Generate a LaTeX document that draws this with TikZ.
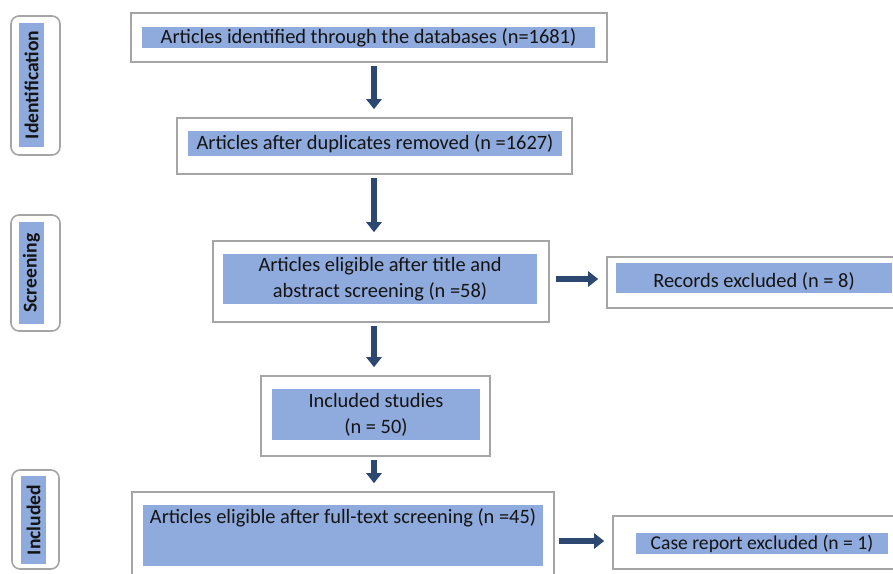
\documentclass[tikz,border=0pt]{standalone}
\usepackage{fontspec}
\setmainfont{Carlito}
\usepackage{tikz}
\usetikzlibrary{arrows.meta}
\definecolor{box_gray}{RGB}{165,165,165}
\definecolor{fill_blue}{RGB}{143,170,220}
\definecolor{arrow_navy}{RGB}{44,72,112}
\definecolor{text_dark}{RGB}{20,20,20}

\begin{document}
\begin{tikzpicture}[x=0.5pt,y=-0.5pt,->,>={Triangle[width=7.5pt,length=5pt]},
    font=\fontsize{10.2}{13}\selectfont,text=text_dark]
    \tikzstyle{outer}=[draw=box_gray, line width=0.8pt, rectangle, fill=white, inner sep=0pt]
    \tikzstyle{inner}=[fill=fill_blue, rectangle, inner sep=0.5pt, align=center]
    \tikzstyle{stage}=[draw=box_gray, line width=0.8pt, rounded corners=4pt, fill=white, inner sep=0pt]
    \tikzstyle{tag}=[fill=fill_blue, inner sep=0pt, rotate=90, font=\fontsize{9.8}{11}\selectfont\bfseries]
    \tikzstyle{flow}=[draw=arrow_navy, line width=3pt, shorten <=1.5pt, shorten >=4pt]

    \clip (0,0) rectangle (893,573);

    % stages
    \node[stage, minimum width=24.5pt, minimum height=69.5pt] (ident) at (35.5,85.5) {};
    \node[tag, minimum width=62pt, minimum height=12.5pt] (ident_t) at (31.5,85) {Identification};
    \node[stage, minimum width=24.5pt, minimum height=58pt] (screen) at (35.5,273) {};
    \node[tag, minimum width=51pt, minimum height=12.5pt] (screen_t) at (31.5,273) {Screening};
    \node[stage, minimum width=23.5pt, minimum height=49.5pt] (incl) at (35.5,519.5) {};
    \node[tag, minimum width=44pt, minimum height=12.5pt] (incl_t) at (33.5,520) {Included};

    % boxes
    \node[outer, minimum width=238pt, minimum height=24.5pt] (db) at (369,37.5) {};
    \node[inner, minimum width=226.5pt, minimum height=10.5pt] (db_t) at (368.5,37.5) {Articles identified through the databases (n=1681)};
    \node[outer, minimum width=197.5pt, minimum height=28pt] (dup) at (374.5,146) {};
    \node[inner, minimum width=187pt, minimum height=12.5pt] (dup_t) at (375,143.5) {Articles after duplicates removed (n =1627)};
    \node[outer, minimum width=168pt, minimum height=40.5pt] (elig) at (381,281.5) {};
    \node[inner, minimum width=157pt, minimum height=25pt] (elig_t) at (380,279) {Articles eligible after title and\\abstract screening (n =58)};
    \node[outer, minimum width=114.5pt, minimum height=40pt] (studies) at (375.5,416) {};
    \node[inner, minimum width=104pt, minimum height=25.5pt] (studies_t) at (376,414.5) {Included studies\\(n = 50)};
    \node[outer, minimum width=211pt, minimum height=49pt] (full) at (343,541) {};
    \node[inner, minimum width=200pt, minimum height=30.5pt] (full_bg) at (343,535.5) {};
    \node[anchor=north, inner sep=0pt] (full_t) at (343,508) {Articles eligible after full-text screening (n =45)};
    \node[outer, minimum width=149pt, minimum height=25.5pt] (recex) at (756,282.5) {};
    \node[inner, minimum width=138pt, minimum height=15pt] (recex_t) at (754,278) {};
    \node[inner sep=0pt] (recex_l) at (754,281) {Records excluded (n = 8)};
    \node[outer, minimum width=146pt, minimum height=26.5pt] (casex) at (759,542.5) {};
    \node[inner, minimum width=126pt, minimum height=10.5pt, font=\fontsize{9.8}{11}\selectfont] (casex_t) at (762,543.5) {Case report excluded (n = 1)};

    \coordinate (ax) at (374,0);
    \path
     (db.south -| ax) edge[flow] (dup.north -| ax)
     (dup.south -| ax) edge[flow] (elig.north -| ax)
     (elig.south -| ax) edge[flow] (studies.north -| ax)
     (studies.south -| ax) edge[flow] (full.north -| ax)
     (elig_t.east -| elig.east) edge[flow, shorten <=3pt] (elig_t.east -| recex.west)
     (full.east) edge[flow, shorten <=2pt] (full.east -| casex.west)
     ;
\end{tikzpicture}
\end{document}
